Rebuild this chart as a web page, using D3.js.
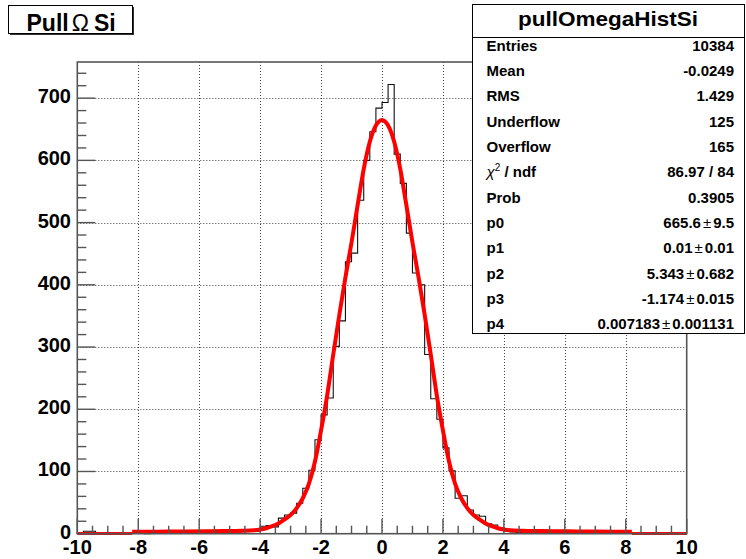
<!DOCTYPE html>
<html>
<head>
<meta charset="utf-8">
<script src="https://cdn.jsdelivr.net/npm/d3@7"></script>
<style>
  html, body { margin: 0; padding: 0; background: #fff; }
  svg { display: block; font-family: "Liberation Sans", Arial, Helvetica, sans-serif; }
</style>
</head>
<body>
<svg id="chart" width="746" height="559"></svg>
<script>
// Histogram: 100 bins of width 0.2 on [-10, 10]
const binLow = -10;
const binWidth = 0.2;
const counts = [
  1, 4, 4, 1, 0, 1, 0, 1, 0, 1,
  1, 0, 1, 1, 2, 1, 1, 2, 1, 2,
  2, 5, 4, 5, 4, 3, 3, 4, 4, 4,
  12, 13, 11, 25, 30, 33, 49, 73, 102, 151,
  191, 218, 301, 342, 437, 451, 536, 600, 646, 684,
  693, 722, 610, 563, 483, 419, 400, 288, 217, 184,
  138, 101, 57, 61, 38, 30, 28, 16, 14, 9,
  4, 3, 2, 3, 2, 3, 6, 3, 2, 3,
  2, 1, 2, 1, 2, 1, 1, 2, 1, 1,
  1, 1, 1, 0, 1, 1, 0, 1, 1, 0
];

// Fitted curve sampled along x
const fitX = [-8.2, -7.6, -7.0, -6.4, -5.8, -5.2, -4.6, -4.2, -4.0, -3.8, -3.6, -3.4, -3.2, -3.0,
  -2.8, -2.6, -2.4, -2.2, -2.0, -1.8, -1.6, -1.4, -1.2, -1.0, -0.8, -0.6, -0.4, -0.2,
  0.0, 0.2, 0.4, 0.6, 0.8, 1.0, 1.2, 1.4, 1.6, 1.8, 2.0, 2.2, 2.4, 2.6, 2.8,
  3.0, 3.2, 3.4, 3.6, 3.8, 4.0, 4.2, 4.6, 5.2, 5.8, 6.4, 7.0, 7.6, 8.2];
const fitY = [3.0, 3.2, 3.4, 3.7, 4.0, 4.3, 4.8, 5.6, 6.8, 8.8, 12, 16.5, 23, 30,
  41, 57, 80, 116, 166, 222, 288, 352, 412, 468, 528, 586, 630, 656,
  665, 656, 630, 586, 528, 468, 412, 352, 288, 222, 166, 116, 80, 57, 41,
  30, 23, 16.5, 12, 8.8, 6.8, 5.6, 4.8, 4.3, 4.0, 3.7, 3.4, 3.2, 3.0];
// Function drawn outside the fit range
const outerX = [[-10, -8.2], [8.2, 10]];
const outerY = 0.5;

// Axis ticks
const xMajor = [-10, -8, -6, -4, -2, 0, 2, 4, 6, 8, 10];
const xTickLabels = ["-10", "-8", "-6", "-4", "-2", "0", "2", "4", "6", "8", "10"];
const yMajor = [0, 100, 200, 300, 400, 500, 600, 700];
const yTickLabels = ["0", "100", "200", "300", "400", "500", "600", "700"];
const xMinorStep = 0.5;
const yMinorStep = 20;

// Statistics panel
const statTitle = "pullOmegaHistSi";
const statLabels = ["Entries", "Mean", "RMS", "Underflow", "Overflow", "chi2", "Prob", "p0", "p1", "p2", "p3", "p4"];
const statValues = ["10384", "-0.0249", "1.429", "125", "165", "86.97 / 84", "0.3905",
  ["665.6", "9.5"], ["0.01", "0.01"], ["5.343", "0.682"], ["-1.174", "0.015"], ["0.007183", "0.001131"]];

const svg = d3.select("#chart");
const frame = { left: 77.3, right: 686.7, top: 62, bottom: 533.7 };

const x = d3.scaleLinear().domain([-10, 10]).range([frame.left, frame.right]);
const yMax = d3.max(counts) * 1.05;
const y = d3.scaleLinear().domain([0, yMax]).range([frame.bottom, frame.top]);

// Grid
const grid = svg.append("g").attr("stroke", "#444").attr("stroke-width", 1)
  .attr("stroke-dasharray", "1,2");
xMajor.filter(v => v > -10 && v < 10).forEach(v => {
  const px = Math.round(x(v)) + 0.5;
  grid.append("line").attr("x1", px).attr("x2", px).attr("y1", frame.top).attr("y2", frame.bottom);
});
yMajor.filter(v => v > 0).forEach(v => {
  const py = Math.round(y(v)) + 0.5;
  grid.append("line").attr("x1", frame.left).attr("x2", frame.right).attr("y1", py).attr("y2", py);
});

// Histogram outline
const histPts = [{ x: binLow, y: 0 }];
counts.forEach((c, i) => histPts.push({ x: binLow + i * binWidth, y: c }));
histPts.push({ x: binLow + counts.length * binWidth, y: counts[counts.length - 1] });
histPts.push({ x: binLow + counts.length * binWidth, y: 0 });
svg.append("path")
  .attr("d", d3.line().x(d => x(d.x)).y(d => y(d.y)).curve(d3.curveStepAfter)(histPts))
  .attr("fill", "none").attr("stroke", "#111").attr("stroke-width", 1.1);

// Fit curve
const fitLine = d3.line().x(d => x(d[0])).y(d => y(d[1])).curve(d3.curveMonotoneX);
svg.append("path")
  .attr("d", fitLine(fitX.map((v, i) => [v, fitY[i]])))
  .attr("fill", "none").attr("stroke", "#ff0000").attr("stroke-width", 4)
  .attr("stroke-linejoin", "round");
outerX.forEach(seg => {
  svg.append("path")
    .attr("d", fitLine(seg.map(v => [v, outerY])))
    .attr("fill", "none").attr("stroke", "#ff0000").attr("stroke-width", 3);
});

// Frame and ticks
const axisColor = "#555";
svg.append("rect")
  .attr("x", frame.left).attr("y", frame.top)
  .attr("width", frame.right - frame.left).attr("height", frame.bottom - frame.top)
  .attr("fill", "none").attr("stroke", axisColor).attr("stroke-width", 1.6);

const ticks = svg.append("g").attr("stroke", axisColor).attr("stroke-width", 1.4);
d3.range(-10, 10 + 1e-9, xMinorStep).forEach(v => {
  const major = xMajor.some(m => Math.abs(m - v) < 1e-6);
  const px = x(v);
  ticks.append("line").attr("x1", px).attr("x2", px)
    .attr("y1", frame.bottom).attr("y2", frame.bottom - (major ? 15 : 8));
});
d3.range(0, yMax, yMinorStep).forEach(v => {
  const major = v % 100 === 0;
  const py = y(v);
  ticks.append("line").attr("x1", frame.left).attr("x2", frame.left + (major ? 18 : 9))
    .attr("y1", py).attr("y2", py);
});

// Tick labels
const labels = svg.append("g").attr("font-size", 20).attr("font-weight", "bold").attr("fill", "#000");
xMajor.forEach((v, i) => {
  labels.append("text").attr("x", x(v)).attr("y", 554)
    .attr("text-anchor", "middle").text(xTickLabels[i]);
});
yMajor.forEach((v, i) => {
  labels.append("text").attr("x", 71).attr("y", y(v) + 5)
    .attr("text-anchor", "end").text(yTickLabels[i]);
});

// Statistics panel
const sb = { x: 472.5, y: 4.5, w: 272, h: 329 };
const stats = svg.append("g");
stats.append("rect").attr("x", sb.x).attr("y", sb.y).attr("width", sb.w).attr("height", sb.h)
  .attr("fill", "#fff").attr("stroke", "#000").attr("stroke-width", 1);
stats.append("line").attr("x1", sb.x).attr("x2", sb.x + sb.w).attr("y1", 37.5).attr("y2", 37.5)
  .attr("stroke", "#000").attr("stroke-width", 1);
stats.append("text").attr("x", 608).attr("y", 26).attr("text-anchor", "middle")
  .attr("font-size", 21).attr("font-weight", "bold").attr("textLength", 180)
  .attr("lengthAdjust", "spacingAndGlyphs").text(statTitle);

statLabels.forEach((lab, i) => {
  const by = 45 + i * 25.36 + 5.5;
  const t = stats.append("text").attr("x", 486.5).attr("y", by)
    .attr("font-size", 15).attr("font-weight", "bold");
  if (lab === "chi2") {
    t.append("tspan").attr("font-weight", "normal").attr("font-style", "italic").text("χ");
    t.append("tspan").attr("font-size", 10).attr("dy", -6).attr("font-weight", "normal").text("2");
    t.append("tspan").attr("dy", 6).text(" / ndf");
  } else {
    t.text(lab);
  }
  const val = statValues[i];
  const v = stats.append("text").attr("x", 734).attr("y", by).attr("text-anchor", "end")
    .attr("font-size", 15).attr("font-weight", "bold");
  if (Array.isArray(val)) {
    v.append("tspan").text(val[0]);
    v.append("tspan").attr("font-weight", "normal").attr("dx", 2).text("±");
    v.append("tspan").attr("dx", 2).text(val[1]);
  } else {
    v.text(val);
  }
});

// Title box
const tb = { x: 8.5, y: 5.5, w: 124, h: 28 };
svg.append("rect").attr("x", tb.x + 1.5).attr("y", tb.y + 1.5).attr("width", tb.w).attr("height", tb.h)
  .attr("fill", "#333");
svg.append("rect").attr("x", tb.x).attr("y", tb.y).attr("width", tb.w).attr("height", tb.h)
  .attr("fill", "#fff").attr("stroke", "#000").attr("stroke-width", 1);
const title = svg.append("text").attr("x", 26.5).attr("y", 30.5)
  .attr("font-size", 23).attr("font-weight", "bold");
title.append("tspan").text("Pull");
title.append("tspan").attr("dx", 3).attr("font-weight", "normal").text("Ω");
title.append("tspan").attr("dx", 5).text("Si");
</script>
</body>
</html>
